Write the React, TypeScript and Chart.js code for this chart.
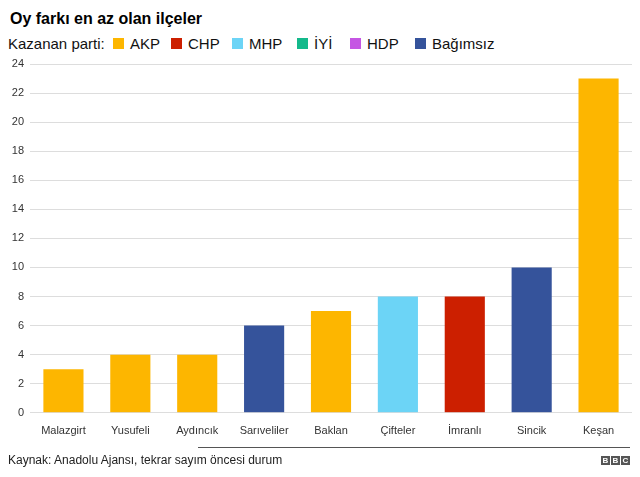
import React, { useEffect, useRef } from "react";
import { Chart, registerables } from "chart.js";

Chart.register(...registerables);

const districts = ["Malazgirt", "Yusufeli", "Aydıncık", "Sarıveliler", "Baklan", "Çifteler", "İmranlı", "Sincik", "Keşan"];
const voteGap = [3, 4, 4, 6, 7, 8, 8, 10, 23];
const winners = ["AKP", "AKP", "AKP", "Bağımsız", "AKP", "MHP", "CHP", "Bağımsız", "AKP"];
const parties = ["AKP", "CHP", "MHP", "İYİ", "HDP", "Bağımsız"];
const partyColors = ["#fdb600", "#cc1f00", "#6cd4f6", "#14b98b", "#c556e3", "#35539b"];
const legendX = [113, 171, 232, 297, 350, 415];

const FONT = "'Liberation Sans', Arial, Helvetica, sans-serif";

export default function App() {
  const ref = useRef<HTMLCanvasElement>(null);
  useEffect(() => {
    const colorOf = (p: string) => partyColors[parties.indexOf(p)];
    const chart = new Chart(ref.current!, {
      type: "bar",
      data: {
        labels: districts,
        datasets: [
          {
            data: voteGap,
            backgroundColor: winners.map(colorOf),
            barPercentage: 0.6,
            categoryPercentage: 1,
          },
        ],
      },
      options: {
        animation: false,
        responsive: false,
        maintainAspectRatio: false,
        layout: { padding: { top: 14, right: 8, bottom: 5, left: 0 } },
        plugins: { legend: { display: false }, tooltip: { enabled: false }, title: { display: false } },
        scales: {
          x: {
            grid: { display: false, drawTicks: false },
            border: { display: false },
            ticks: { color: "#333", font: { family: FONT, size: 11 }, padding: 12, maxRotation: 0 },
          },
          y: {
            min: 0,
            max: 24,
            grid: { color: "#dddddd", drawTicks: false, lineWidth: 1 },
            border: { display: false },
            ticks: { stepSize: 2, color: "#333", font: { family: FONT, size: 11 }, padding: 6 },
            afterFit: (s: any) => {
              s.width = 30;
            },
          },
        },
      },
    });
    return () => chart.destroy();
  }, []);

  return (
    <div style={{ position: "absolute", left: 0, top: 0, width: 640, height: 477, background: "#fff", fontFamily: FONT, overflow: "hidden" }}>
      <div style={{ position: "absolute", left: 10, top: 10, fontSize: 16, fontWeight: "bold", color: "#000", whiteSpace: "nowrap" }}>
        Oy farkı en az olan ilçeler
      </div>
      <div style={{ position: "absolute", left: 8, top: 35, fontSize: 15, color: "#111", whiteSpace: "nowrap" }}>Kazanan parti:</div>
      {parties.map((p, i) => (
        <div key={p} style={{ position: "absolute", left: legendX[i], top: 35, fontSize: 15, color: "#111", whiteSpace: "nowrap", display: "flex", alignItems: "center" }}>
          <span style={{ display: "inline-block", width: 11, height: 11, background: partyColors[i], marginRight: 6 }} />
          {p}
        </div>
      ))}
      <canvas ref={ref} width={640} height={405} style={{ position: "absolute", left: 0, top: 50, width: 640, height: 405 }} />
      <div style={{ position: "absolute", left: 198, top: 447, width: 432, height: 1, background: "#555" }} />
      <div style={{ position: "absolute", left: 8, top: 453, fontSize: 12, color: "#222", whiteSpace: "nowrap" }}>
        Kaynak: Anadolu Ajansı, tekrar sayım öncesi durum
      </div>
      <div style={{ position: "absolute", left: 601, top: 456, display: "flex", gap: 1 }}>
        {["B", "B", "C"].map((c, i) => (
          <span key={i} style={{ width: 9, height: 9, background: "#555", color: "#fff", fontSize: 8, fontWeight: "bold", lineHeight: "9px", textAlign: "center", display: "inline-block" }}>
            {c}
          </span>
        ))}
      </div>
    </div>
  );
}
